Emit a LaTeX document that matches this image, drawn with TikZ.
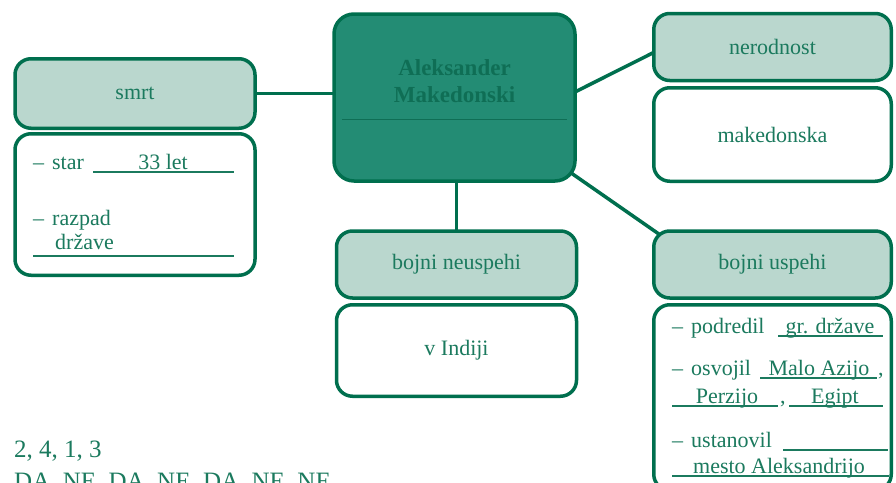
\documentclass[tikz,border=0pt]{standalone}
\usepackage{fontspec}
\setmainfont{Liberation Serif}
\usetikzlibrary{backgrounds}

\definecolor{temna}{HTML}{006F4E}
\definecolor{svetla}{HTML}{BAD7CE}
\definecolor{srednja}{HTML}{238C74}
\definecolor{pisava}{HTML}{1B7A5E}
\definecolor{naslov}{HTML}{0F6E55}

\newcommand{\alineja}{–\hspace{8pt}}

\begin{document}
\begin{tikzpicture}[
    x=1pt, y=-1pt,
    font=\fontsize{22}{27}\selectfont,
    okvir/.style={
      rectangle,
      rounded corners=16pt,
      draw=temna,
      line width=3.5pt,
      text=pisava,
      minimum width=240pt},
    glava/.style={okvir, fill=svetla, minimum height=67pt},
    telo/.style={okvir, fill=white},
    vrstica/.style={anchor=base west, inner sep=0pt, text=pisava},
    resitev/.style={anchor=base, inner sep=0pt, text=pisava},
    crta/.style={draw=pisava, line width=1.1pt},
    povezava/.style={draw=temna, line width=3.5pt, shorten <=-10pt, shorten >=-10pt}
    ]

  \useasboundingbox (0,0) rectangle (896,482);
  \clip (0,0) rectangle (896,482);

  \node at (454.5,97.5) (glavni) [okvir, fill=srednja, minimum width=241pt, minimum height=167pt, rounded corners=20pt] {};

  \node at (454.5,75) (ime0) [resitev, text=naslov, font=\fontsize{23}{27}\selectfont\bfseries] {Aleksander};
  \node at (454.5,102) (ime1) [resitev, text=naslov, font=\fontsize{23}{27}\selectfont\bfseries] {Makedonski};
  \draw [draw=naslov, line width=0.9pt] (342,119) -- (567,119);

  \node at (135,93.5) (glava0) [glava, minimum height=69.5pt] {smrt};
  \node at (135,204.5) (telo0) [telo, minimum height=141.5pt] {};

  \node at (772.5,47) (glava1) [glava, minimum width=237.5pt] {nerodnost};
  \node at (772.5,134.5) (telo1) [telo, minimum width=237.5pt, minimum height=93.5pt] {makedonska};

  \node at (456.5,264.5) (glava2) [glava] {bojni neuspehi};
  \node at (456.5,350.5) (telo2) [telo, minimum height=91.5pt] {v Indiji};

  \node at (772.5,264.5) (glava3) [glava, minimum width=237.5pt] {bojni uspehi};
  \node at (772.5,397.5) (telo3) [telo, minimum width=237.5pt, minimum height=185.5pt] {};

  % smrt
  \node at (33,169) (star) [vrstica] {\alineja star};
  \draw [crta] (93,172) -- (234,172);
  \node at (163,169) (leta) [resitev] {33 let};
  \node at (33,225) (razpad) [vrstica] {\alineja razpad};
  \node at (55,249) (drzave) [vrstica] {države};
  \draw [crta] (33,256) -- (234,256);

  % bojni uspehi
  \node at (672,333) (podredil) [vrstica] {\alineja podredil};
  \draw [crta] (778,336) -- (883,336);
  \node at (830,333) (grske) [resitev] {gr. države};
  \node at (672,375) (osvojil) [vrstica] {\alineja osvojil};
  \draw [crta] (760,378) -- (877,378);
  \node at (819,375) (azija) [resitev] {Malo Azijo};
  \node at (878,375) (vejica0) [vrstica] {,};
  \draw [crta] (672,406) -- (778,406);
  \node at (727,403) (perzija) [resitev] {Perzijo};
  \node at (780,403) (vejica1) [vrstica] {,};
  \draw [crta] (789,406) -- (883,406);
  \node at (835,403) (egipt) [resitev] {Egipt};
  \node at (672,447) (ustanovil) [vrstica] {\alineja ustanovil};
  \draw [crta] (783,450) -- (888,450);
  \draw [crta] (672,476) -- (889,476);
  \node at (779,473) (mesto) [resitev] {mesto Aleksandrijo};

  \node at (14,457) (vrstni) [vrstica, font=\fontsize{25}{30}\selectfont] {2, 4, 1, 3};
  \node at (14,489) (odgovori) [vrstica, font=\fontsize{25}{30}\selectfont] {DA, NE, DA, NE, DA, NE, NE};

  \begin{scope}[on background layer]
    \path [povezava] (glava0.east) edge [] (glavni.west |- glava0.east);
    \path [povezava] (glavni.3) edge [] (glava1.183);
    \path [povezava] (glavni.south -| glava2.north) edge [] (glava2.north);
    \path [povezava] (glavni.-33) edge [] (glava3.north west);
  \end{scope}

\end{tikzpicture}
\end{document}
